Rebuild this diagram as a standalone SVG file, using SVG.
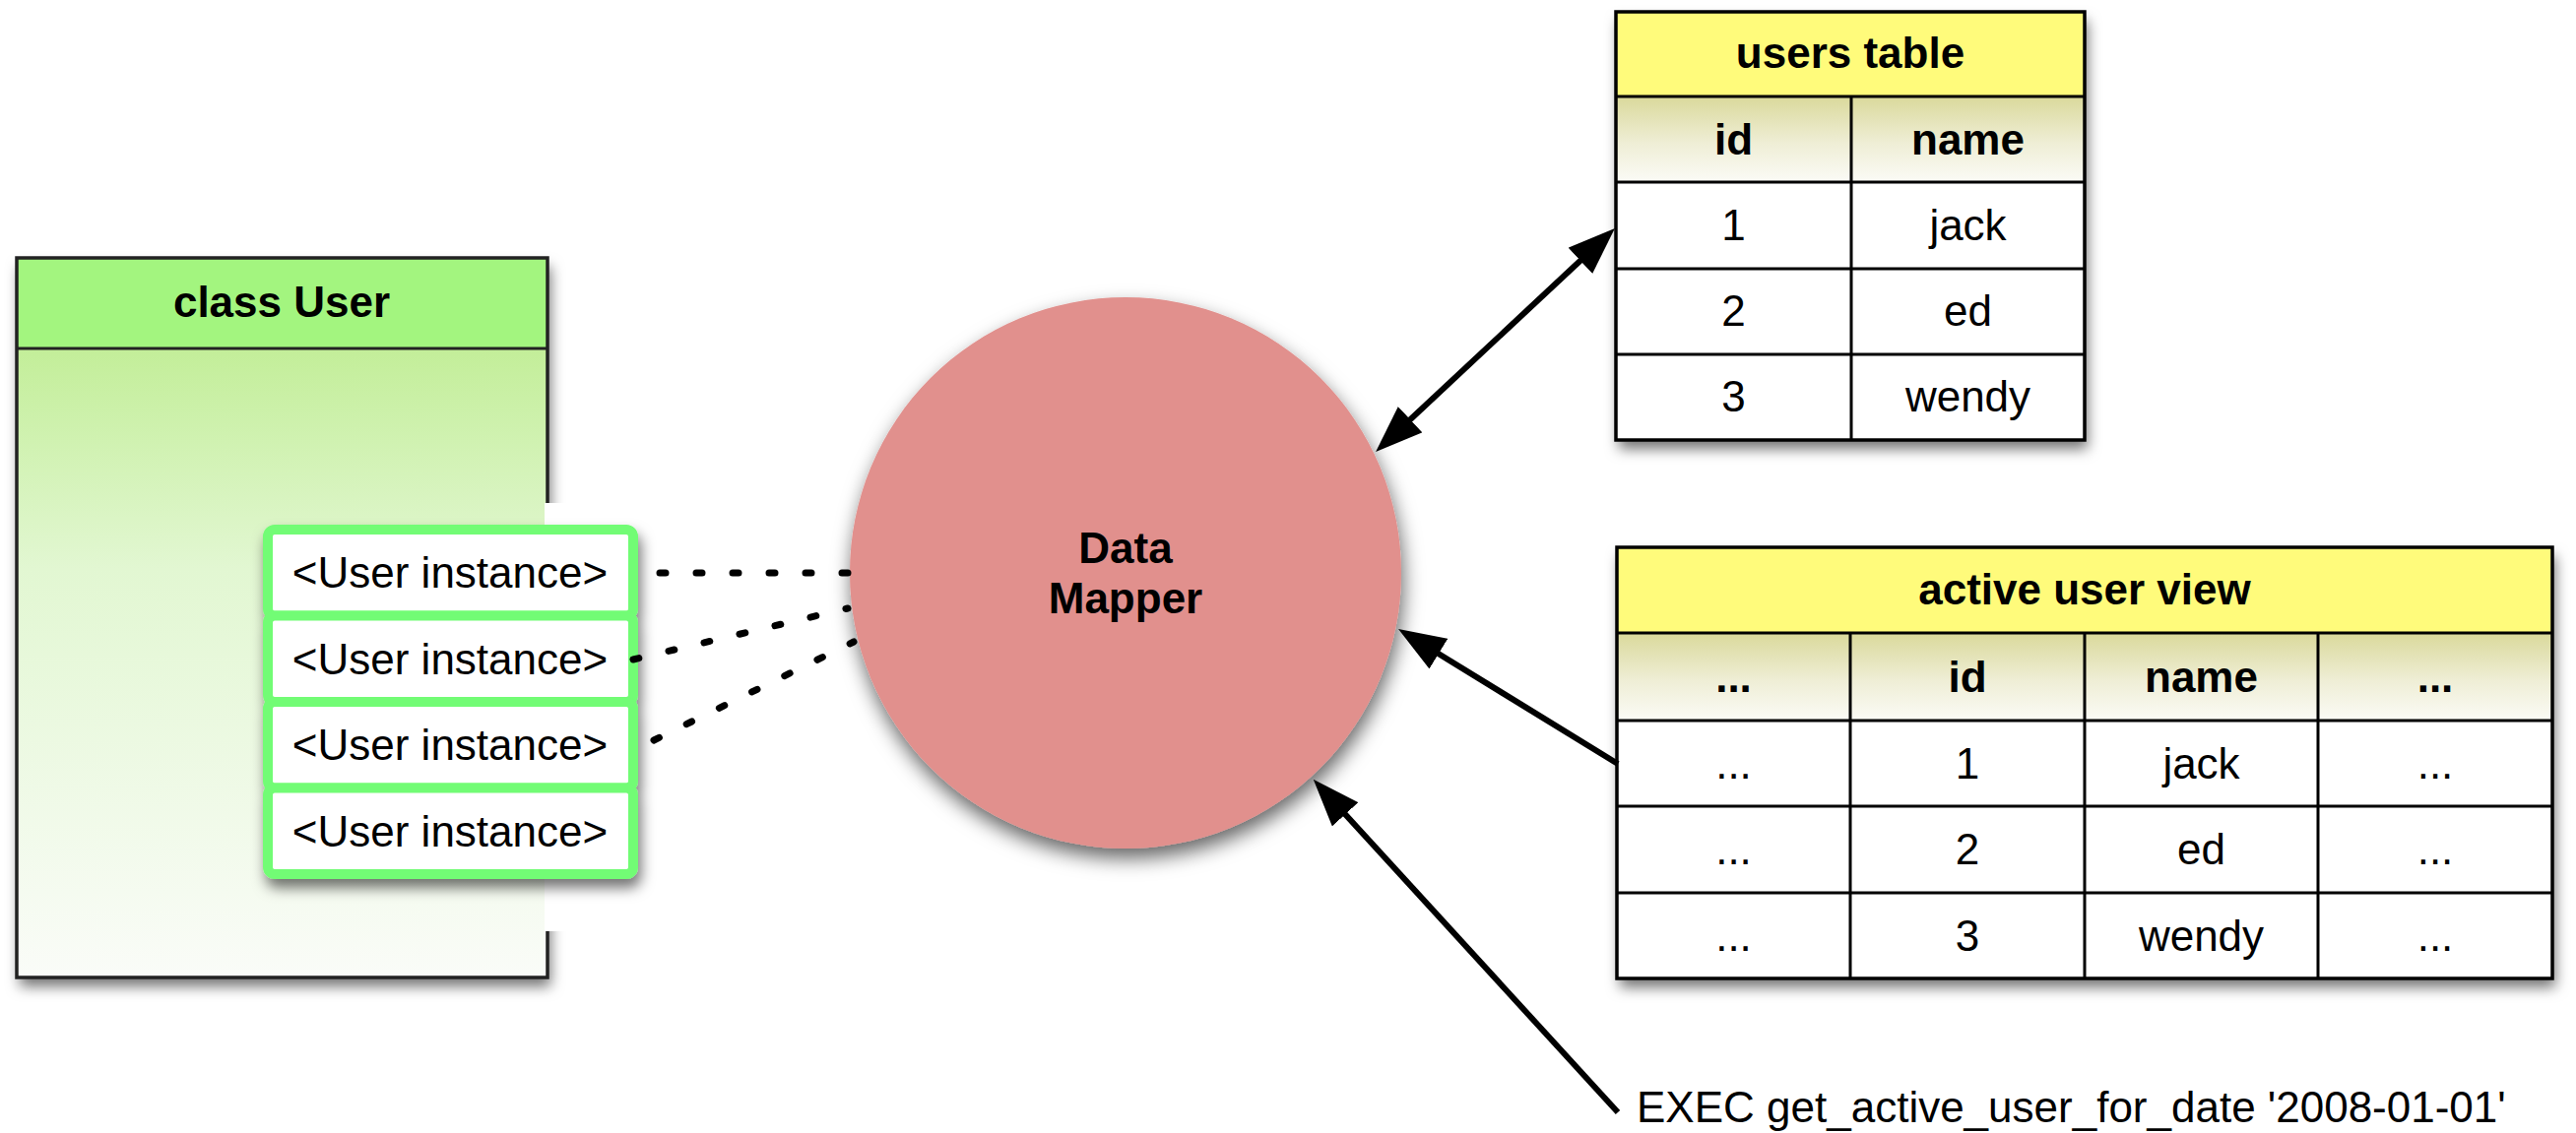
<svg xmlns="http://www.w3.org/2000/svg" width="2616" height="1151" viewBox="0 0 2616 1151">
<defs>
<filter id="shadow" x="-10%" y="-10%" width="130%" height="130%">
<feDropShadow dx="3" dy="9" stdDeviation="7" flood-color="#000" flood-opacity="0.55"/>
</filter>
<filter id="shadowCircle" x="-15%" y="-15%" width="130%" height="135%">
<feDropShadow dx="2" dy="10" stdDeviation="10" flood-color="#000" flood-opacity="0.6"/>
</filter>
<linearGradient id="classBody" x1="0" y1="0" x2="0" y2="1">
<stop offset="0" stop-color="#C3EE99"/>
<stop offset="0.35" stop-color="#E2F7D2"/>
<stop offset="1" stop-color="#FAFCF8"/>
</linearGradient>
<linearGradient id="colHead" x1="0" y1="0" x2="0" y2="1">
<stop offset="0" stop-color="#DAD99B"/>
<stop offset="0.55" stop-color="#EFEED6"/>
<stop offset="1" stop-color="#FBFBF6"/>
</linearGradient>
<marker id="arrow" viewBox="0 0 48 36" refX="18" refY="18" markerWidth="48" markerHeight="36" markerUnits="userSpaceOnUse" orient="auto-start-reverse">
<path d="M0,0 L48,18 L0,36 Z" fill="#000"/>
</marker>
</defs>
<style>
.t{font-family:"Liberation Sans",Arial,Helvetica,sans-serif;font-size:44px;fill:#000;text-anchor:middle}
.b{font-weight:bold}
.grid{fill:none;stroke:#000;stroke-width:3.5}
.line{stroke:#000;stroke-width:3}
.conn{stroke:#000;stroke-width:6;fill:none}
.dot{stroke:#000;stroke-width:7;stroke-linecap:round;stroke-dasharray:6 31;fill:none}
.inst{fill:#fff;stroke:#72FC74;stroke-width:10}
.yellow{fill:#FFFB7B}
</style>

<g id="class-user">
<rect x="17" y="262" width="539" height="731" fill="#fff" filter="url(#shadow)"/>
<rect x="17" y="262" width="539" height="92" fill="#A3F57F"/>
<rect x="17" y="354" width="539" height="639" fill="url(#classBody)"/>
<rect x="17" y="262" width="539" height="731" fill="none" stroke="#222" stroke-width="3.5"/>
<line x1="17" y1="354" x2="556" y2="354" stroke="#222" stroke-width="3"/>
<text x="286" y="322" class="t b">class User</text>
</g>
<rect x="553" y="511" width="110" height="435" fill="#fff"/>

<g id="user-instances">
<g filter="url(#shadow)">
<rect x="272" y="538" width="371" height="87.5" rx="7" class="inst"/>
<rect x="272" y="625.5" width="371" height="87.5" rx="7" class="inst"/>
<rect x="272" y="713" width="371" height="87.5" rx="7" class="inst"/>
<rect x="272" y="800.5" width="371" height="87.5" rx="7" class="inst"/>
</g>
<text x="457" y="597" class="t">&lt;User instance&gt;</text>
<text x="457" y="684.5" class="t">&lt;User instance&gt;</text>
<text x="457" y="772" class="t">&lt;User instance&gt;</text>
<text x="457" y="859.5" class="t">&lt;User instance&gt;</text>
</g>

<g id="data-mapper">
<circle cx="1143" cy="582" r="280" fill="#E1908D" filter="url(#shadowCircle)"/>
<text x="1143" y="572" class="t b">Data</text>
<text x="1143" y="623" class="t b">Mapper</text>
</g>

<g id="users-table">
<rect x="1641" y="12" width="476" height="435" fill="#fff" filter="url(#shadow)"/>
<rect x="1641" y="12" width="476" height="86" class="yellow"/>
<rect x="1641" y="98" width="476" height="87" fill="url(#colHead)"/>
<rect x="1641" y="12" width="476" height="435" class="grid"/>
<line x1="1641" y1="98" x2="2117" y2="98" class="line"/>
<line x1="1641" y1="185" x2="2117" y2="185" class="line"/>
<line x1="1641" y1="273" x2="2117" y2="273" class="line"/>
<line x1="1641" y1="360" x2="2117" y2="360" class="line"/>
<line x1="1880" y1="98" x2="1880" y2="447" class="line"/>
<text x="1879" y="69" class="t b">users table</text>
<text x="1760.5" y="157" class="t b">id</text>
<text x="1998.5" y="157" class="t b">name</text>
<text x="1760.5" y="244" class="t">1</text>
<text x="1998.5" y="244" class="t">jack</text>
<text x="1760.5" y="331" class="t">2</text>
<text x="1998.5" y="331" class="t">ed</text>
<text x="1760.5" y="418" class="t">3</text>
<text x="1998.5" y="418" class="t">wendy</text>
</g>

<g id="active-user-view">
<rect x="1642" y="556" width="950" height="438" fill="#fff" filter="url(#shadow)"/>
<rect x="1642" y="556" width="950" height="87" class="yellow"/>
<rect x="1642" y="643" width="950" height="89" fill="url(#colHead)"/>
<rect x="1642" y="556" width="950" height="438" class="grid"/>
<line x1="1642" y1="643" x2="2592" y2="643" class="line"/>
<line x1="1642" y1="732" x2="2592" y2="732" class="line"/>
<line x1="1642" y1="819" x2="2592" y2="819" class="line"/>
<line x1="1642" y1="907" x2="2592" y2="907" class="line"/>
<line x1="1879" y1="643" x2="1879" y2="994" class="line"/>
<line x1="2117" y1="643" x2="2117" y2="994" class="line"/>
<line x1="2354" y1="643" x2="2354" y2="994" class="line"/>
<text x="2117" y="614" class="t b">active user view</text>
<text x="1760.5" y="703" class="t b">...</text>
<text x="1998" y="703" class="t b">id</text>
<text x="2235.5" y="703" class="t b">name</text>
<text x="2473" y="703" class="t b">...</text>
<text x="1760.5" y="791" class="t">...</text>
<text x="1998" y="791" class="t">1</text>
<text x="2235.5" y="791" class="t">jack</text>
<text x="2473" y="791" class="t">...</text>
<text x="1760.5" y="878" class="t">...</text>
<text x="1998" y="878" class="t">2</text>
<text x="2235.5" y="878" class="t">ed</text>
<text x="2473" y="878" class="t">...</text>
<text x="1760.5" y="966" class="t">...</text>
<text x="1998" y="966" class="t">3</text>
<text x="2235.5" y="966" class="t">wendy</text>
<text x="2473" y="966" class="t">...</text>
</g>

<g id="exec-label">
<text x="1662" y="1140" class="t" style="text-anchor:start">EXEC get_active_user_for_date '2008-01-01'</text>
</g>

<g id="connectors">
<line x1="670" y1="582" x2="861" y2="582" class="dot"/>
<line x1="643" y1="670" x2="861" y2="618" class="dot"/>
<line x1="664" y1="752" x2="867" y2="652" class="dot"/>
<line x1="1419" y1="438.5" x2="1618" y2="252.5" class="conn" marker-start="url(#arrow)" marker-end="url(#arrow)"/>
<line x1="1643" y1="776" x2="1445.6" y2="654.7" class="conn" marker-end="url(#arrow)"/>
<line x1="1643" y1="1130" x2="1354" y2="814" class="conn" marker-end="url(#arrow)"/>
</g>
</svg>
